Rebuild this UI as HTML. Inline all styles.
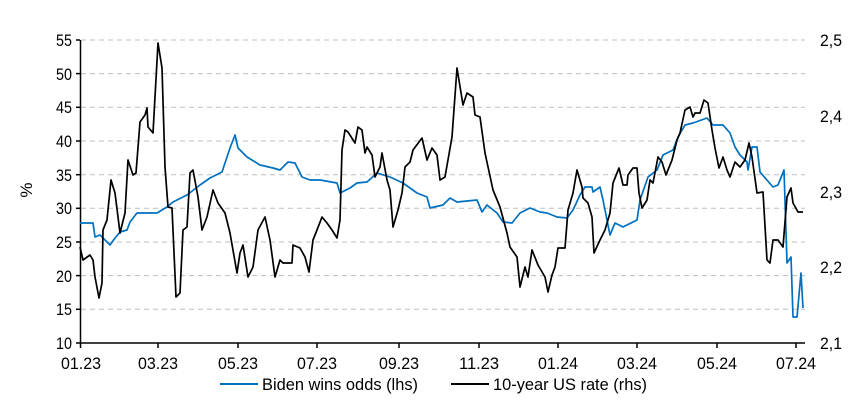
<!DOCTYPE html>
<html><head><style>
body{margin:0;background:#fff;}
svg text{font-family:"Liberation Sans Narrow","Liberation Sans",Arial,sans-serif;font-size:17px;fill:#000;}
</style></head><body>
<svg width="867" height="400" xmlns="http://www.w3.org/2000/svg">
<g stroke="#bfbfbf" stroke-dasharray="5,4" stroke-width="1">
<line x1="81" x2="805" y1="40" y2="40"/><line x1="81" x2="805" y1="73.6" y2="73.6"/><line x1="81" x2="805" y1="107.3" y2="107.3"/><line x1="81" x2="805" y1="141" y2="141"/><line x1="81" x2="805" y1="174.7" y2="174.7"/><line x1="81" x2="805" y1="208.3" y2="208.3"/><line x1="81" x2="805" y1="242" y2="242"/><line x1="81" x2="805" y1="275.6" y2="275.6"/><line x1="81" x2="805" y1="309.3" y2="309.3"/>
</g>
<g stroke="#000" stroke-width="1.5">
<line x1="80.5" y1="40" x2="80.5" y2="343"/>
<line x1="80" y1="343" x2="805" y2="343"/>
<line x1="76" x2="80" y1="40" y2="40"/><line x1="76" x2="80" y1="73.6" y2="73.6"/><line x1="76" x2="80" y1="107.3" y2="107.3"/><line x1="76" x2="80" y1="141" y2="141"/><line x1="76" x2="80" y1="174.7" y2="174.7"/><line x1="76" x2="80" y1="208.3" y2="208.3"/><line x1="76" x2="80" y1="242" y2="242"/><line x1="76" x2="80" y1="275.6" y2="275.6"/><line x1="76" x2="80" y1="309.3" y2="309.3"/><line x1="76" x2="80" y1="343" y2="343"/>
<line x1="80.5" x2="80.5" y1="343" y2="348"/><line x1="158" x2="158" y1="343" y2="348"/><line x1="238" x2="238" y1="343" y2="348"/><line x1="317" x2="317" y1="343" y2="348"/><line x1="399" x2="399" y1="343" y2="348"/><line x1="479" x2="479" y1="343" y2="348"/><line x1="558" x2="558" y1="343" y2="348"/><line x1="637" x2="637" y1="343" y2="348"/><line x1="717" x2="717" y1="343" y2="348"/><line x1="796" x2="796" y1="343" y2="348"/>
</g>
<g>
<text x="56" y="46" textLength="16" lengthAdjust="spacingAndGlyphs">55</text><text x="56" y="80" textLength="16" lengthAdjust="spacingAndGlyphs">50</text><text x="56" y="113" textLength="16" lengthAdjust="spacingAndGlyphs">45</text><text x="56" y="147" textLength="16" lengthAdjust="spacingAndGlyphs">40</text><text x="56" y="181" textLength="16" lengthAdjust="spacingAndGlyphs">35</text><text x="56" y="214" textLength="16" lengthAdjust="spacingAndGlyphs">30</text><text x="56" y="248" textLength="16" lengthAdjust="spacingAndGlyphs">25</text><text x="56" y="282" textLength="16" lengthAdjust="spacingAndGlyphs">20</text><text x="56" y="315" textLength="16" lengthAdjust="spacingAndGlyphs">15</text><text x="56" y="349" textLength="16" lengthAdjust="spacingAndGlyphs">10</text>
</g>
<g>
<text x="820" y="46" textLength="22" lengthAdjust="spacingAndGlyphs">2,5</text><text x="820" y="122" textLength="22" lengthAdjust="spacingAndGlyphs">2,4</text><text x="820" y="198" textLength="22" lengthAdjust="spacingAndGlyphs">2,3</text><text x="820" y="273" textLength="22" lengthAdjust="spacingAndGlyphs">2,2</text><text x="820" y="349" textLength="22" lengthAdjust="spacingAndGlyphs">2,1</text>
</g>
<g>
<text x="61" y="369" textLength="40" lengthAdjust="spacingAndGlyphs">01.23</text><text x="138" y="369" textLength="40" lengthAdjust="spacingAndGlyphs">03.23</text><text x="218" y="369" textLength="40" lengthAdjust="spacingAndGlyphs">05.23</text><text x="297" y="369" textLength="40" lengthAdjust="spacingAndGlyphs">07.23</text><text x="379" y="369" textLength="40" lengthAdjust="spacingAndGlyphs">09.23</text><text x="459" y="369" textLength="40" lengthAdjust="spacingAndGlyphs">11.23</text><text x="538" y="369" textLength="40" lengthAdjust="spacingAndGlyphs">01.24</text><text x="617" y="369" textLength="40" lengthAdjust="spacingAndGlyphs">03.24</text><text x="697" y="369" textLength="40" lengthAdjust="spacingAndGlyphs">05.24</text><text x="776" y="369" textLength="40" lengthAdjust="spacingAndGlyphs">07.24</text>
</g>
<text x="0" y="0" transform="translate(32,190) rotate(-90)" text-anchor="middle">%</text>
<polyline fill="none" stroke="#0070c0" stroke-width="1.7" stroke-linejoin="round" points="80,223 93,223 95,237 100,235 105,240 110,245 115,238 120,232 127,230 130,222 137,213 143,213 157,213 167,207 173,202 187,195 200,185 210,178 222,172 230,148 235,135 238,148 247,157 260,165 273,168 280,170 288,162 295,163 302,177 310,180 320,180 337,183 340,193 350,188 357,183 367,182 377,173 390,177 403,183 417,193 427,197 430,208 443,205 450,198 457,202 477,200 482,212 487,205 497,213 503,222 512,223 520,213 530,208 540,212 547,213 557,217 567,218 573,210 580,195 585,187 592,187 593,192 600,187 603,200 610,235 615,223 623,227 637,220 640,200 648,177 657,170 663,155 673,150 678,137 685,125 693,123 707,118 713,125 723,125 730,133 735,147 740,155 747,162 748,170 752,147 757,147 760,172 773,187 778,185 784,170 787,263 791,257 793,317 797,317 801,273 803,308"/>
<polyline fill="none" stroke="#000" stroke-width="1.7" stroke-linejoin="round" points="80,247 83,260 90,255 93,260 95,277 99,298 102,283 103,230 107,220 111,180 115,193 120,233 125,213 128,160 133,175 136,173 140,122 145,115 147,108 148,127 153,133 158,43 162,68 165,167 168,207 172,208 176,297 180,293 183,230 187,227 190,173 193,170 198,197 202,230 207,217 213,190 218,203 225,213 230,233 237,273 240,253 243,245 248,277 253,267 258,230 265,217 270,240 275,277 280,260 283,263 292,263 293,245 300,248 305,257 309,272 313,240 317,230 322,217 327,223 332,230 337,238 340,220 342,150 345,130 348,132 355,143 358,127 362,130 365,153 367,147 372,155 375,177 380,167 382,153 387,180 390,190 393,227 398,210 402,193 405,167 410,162 413,150 422,138 427,160 432,148 437,155 440,180 445,177 452,137 457,68 463,105 467,93 473,97 475,115 480,117 485,153 493,190 500,207 507,233 510,247 517,257 520,287 525,267 528,277 532,250 538,265 545,277 548,292 552,275 555,267 558,248 565,248 568,210 573,193 577,170 582,187 583,198 588,203 592,217 594,253 600,240 605,230 610,213 613,183 619,168 623,185 627,185 628,175 633,168 637,168 639,193 642,208 647,200 650,180 653,183 658,157 662,162 666,175 672,160 677,140 680,133 685,110 690,107 693,117 695,113 700,113 704,100 708,103 712,130 715,148 719,168 723,157 727,170 730,177 735,162 740,167 745,160 749,143 752,157 757,193 763,192 767,260 770,263 773,240 778,240 783,247 787,197 791,188 793,203 798,212 803,212"/>
<line x1="220" x2="258" y1="384" y2="384" stroke="#0070c0" stroke-width="2"/>
<text x="262" y="390" textLength="156" lengthAdjust="spacingAndGlyphs">Biden wins odds (lhs)</text>
<line x1="451" x2="489" y1="384" y2="384" stroke="#000" stroke-width="2"/>
<text x="493" y="390" textLength="154" lengthAdjust="spacingAndGlyphs">10-year US rate (rhs)</text>
</svg>
</body></html>
